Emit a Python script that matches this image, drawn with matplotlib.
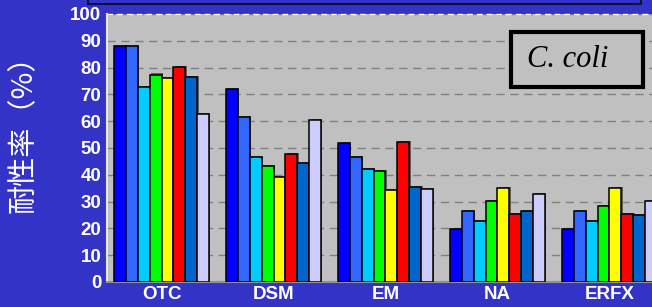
#!/usr/bin/env python3
"""
Resistance rate bar chart (C. coli)
"""

import matplotlib
matplotlib.use('Agg')
import matplotlib.pyplot as plt
from matplotlib.patches import Rectangle
import numpy as np

# data
categories = ['OTC', 'DSM', 'EM', 'NA', 'ERFX']
otc = [88, 88, 72.6, 77.4, 76, 80.3, 76.5, 62.7]
dsm = [72, 61.6, 46.6, 43.4, 39.2, 47.9, 44.3, 60.4]
em = [52, 46.6, 42, 41.5, 34.3, 52.2, 35.3, 34.8]
na = [19.9, 26.4, 22.9, 30.1, 35.1, 25.5, 26.6, 32.7]
erfx = [19.9, 26.4, 22.9, 28.2, 35.1, 25.5, 24.9, 30.1]
series_colors = ['#0000FF', '#3366FF', '#00CCFF', '#00FF00',
                 '#FFFF00', '#FF0000', '#0066CC', '#CCCCFF']
yticks = list(range(0, 101, 10))

BG = '#3333C8'
W, H = 652, 307

fig = plt.figure(figsize=(W / 100, H / 100), dpi=100, facecolor=BG)
ax = fig.add_axes([107 / W, (H - 282) / H, (W - 107) / W, 268 / H])
ax.set_facecolor('#C0C0C0')

groups = [otc, dsm, em, na, erfx]
x = np.arange(len(categories))
bw = 11.9 / 112
for j in range(len(series_colors)):
    vals = [g[j] for g in groups]
    # faint shadow behind each bar
    ax.bar(x + (j - 3.5) * bw + 0.012, np.array(vals) + 0.4, width=bw,
           color='#606060', linewidth=0, zorder=2.5)
    ax.bar(x + (j - 3.5) * bw, vals, width=bw, color=series_colors[j],
           edgecolor='black', linewidth=1.1, zorder=3)

ax.set_xlim(-0.487, 4.38)
ax.set_ylim(0, 100)
ax.set_yticks(yticks)
ax.set_xticks(x)
ax.set_xticklabels(categories)
ax.tick_params(axis='y', length=0, labelsize=13.5, pad=4)
ax.tick_params(axis='x', length=0, labelsize=13.5, pad=3)
for lab in ax.get_xticklabels() + ax.get_yticklabels():
    lab.set_fontfamily('Liberation Sans')
    lab.set_fontweight('bold')
    lab.set_color('white')

ax.yaxis.grid(True, linestyle=(0, (6, 4)), color='#808080', linewidth=1.0, zorder=1)
for s in ['top', 'right']:
    ax.spines[s].set_visible(False)
ax.spines['left'].set_color('#E8E8F0')
ax.spines['left'].set_linewidth(1.5)
ax.spines['bottom'].set_color('#909090')
ax.spines['bottom'].set_linewidth(1.5)
ax.axhline(100, color='white', linestyle=(0, (4, 3)), linewidth=1.0, zorder=2, clip_on=False)

# species box
ax.add_patch(Rectangle((0.741, 0.728), 0.242, 0.205, transform=ax.transAxes,
                       facecolor='#C0C0C0', edgecolor='black', linewidth=3, zorder=5))
ax.text(0.845, 0.832, 'C. coli', transform=ax.transAxes, ha='center', va='center',
        fontsize=22, fontstyle='italic', family='Liberation Serif', color='black',
        zorder=6)

# y label
fig.text(24 / W, 1 - 127 / H, '耐性率（%）', rotation=90, ha='center', va='center',
         fontsize=21, color='white', family=['Noto Sans CJK JP', 'DejaVu Sans'])

# title box cut off at top
fig.patches.append(Rectangle((88 / W, 1 - 4 / H), (641 - 88) / W, 10 / H,
                             transform=fig.transFigure, facecolor=BG,
                             edgecolor='#101040', linewidth=1.5))

fig.savefig('out.png', dpi=100, facecolor=BG)
